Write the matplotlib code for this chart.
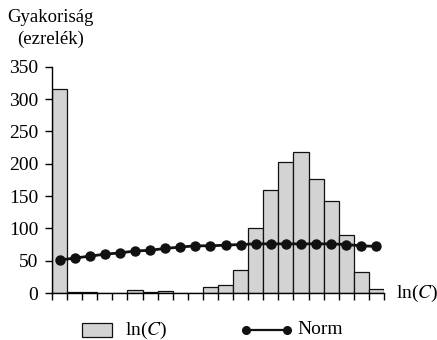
import matplotlib
matplotlib.use("Agg")
import matplotlib.pyplot as plt
import numpy as np
from matplotlib.lines import Line2D
from matplotlib.patches import Rectangle

# Histogram of ln(C) (per mille) and fitted normal curve
ln_c = [315, 2, 1, 0, 0, 4, 2, 3, 0, 0, 10, 13, 35, 100, 159, 202, 218, 177, 142, 89, 33, 6]
norm = [51, 54, 57, 60, 62, 65, 66, 69, 71, 73, 73, 74, 75, 76, 76, 76, 76, 76, 76, 75, 73, 72]
y_ticks = [0, 50, 100, 150, 200, 250, 300, 350]

plt.rcParams['font.family'] = ['Liberation Serif', 'DejaVu Serif']
plt.rcParams['mathtext.fontset'] = 'stix'

W, H = 437, 340
fig = plt.figure(figsize=(W / 100, H / 100), dpi=100)
ax = fig.add_axes([52 / W, 1 - 293 / H, 332 / W, 226.3 / H])

bar_color = '#d3d3d3'
ink = '#111111'

x = np.arange(len(ln_c))
ax.bar(x + 0.5, ln_c, width=1.0, color=bar_color, edgecolor=ink, linewidth=0.9, zorder=2)
ax.plot(x + 0.5, norm, color=ink, linewidth=2.0, marker='o', markersize=6.5, zorder=3)

ax.set_xlim(0, len(ln_c))
ax.set_ylim(0, 350)
ax.set_yticks(y_ticks)
ax.set_xticks(np.arange(len(ln_c) + 1))
ax.set_xticklabels([])
for s in ['top', 'right']:
    ax.spines[s].set_visible(False)
for s in ['left', 'bottom']:
    ax.spines[s].set_linewidth(1.0)
ax.tick_params(axis='both', direction='out', length=5, width=1.0, labelsize=14)
ax.tick_params(axis='y', pad=5)

fig.text(50 / W, 1 - 17 / H, 'Gyakoriság', ha='center', va='center', fontsize=13.5)
fig.text(51 / W, 1 - 39 / H, '(ezrelék)', ha='center', va='center', fontsize=13.5)
fig.text(396 / W, 1 - 293 / H, r'ln($\mathit{C}$)', ha='left', va='center', fontsize=14)

# Legend keys drawn in figure pixels
key_y = 1 - 330 / H
fig.add_artist(Rectangle((82 / W, 1 - 336.5 / H), 30 / W, 14 / H, facecolor=bar_color,
                         edgecolor=ink, linewidth=0.9, transform=fig.transFigure))
fig.text(125 / W, key_y, r'ln($\mathit{C}$)', ha='left', va='center', fontsize=14)
fig.add_artist(Line2D([246 / W, 287 / W], [key_y, key_y], color=ink, linewidth=1.6,
                      marker='o', markersize=5.5, transform=fig.transFigure))
fig.text(297 / W, key_y, 'Norm', ha='left', va='center', fontsize=14)

fig.savefig('out.png', dpi=100)
